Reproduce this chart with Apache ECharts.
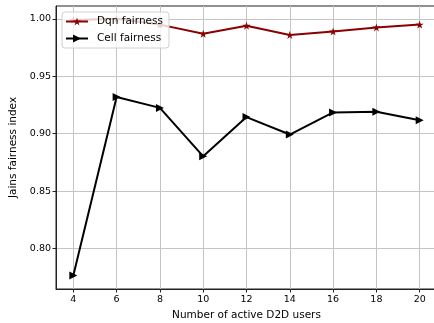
<!DOCTYPE html>
<html>
<head>
<meta charset="utf-8">
<script src="https://cdn.jsdelivr.net/npm/echarts@6/dist/echarts.min.js"></script>
<style>html,body{margin:0;padding:0;background:#fff;overflow:hidden;}#c{width:434px;height:323px;}</style>
</head>
<body>
<div id="c"></div>
<script>
var users = [4, 6, 8, 10, 12, 14, 16, 18, 20];
var dqnFairness = [0.999, 1.000, 0.995, 0.987, 0.994, 0.986, 0.989, 0.9925, 0.995];
var cellFairness = [0.7766, 0.932, 0.9225, 0.8803, 0.9145, 0.8993, 0.9185, 0.9192, 0.9118];
var xTicks = [4, 6, 8, 10, 12, 14, 16, 18, 20];
var yTicks = [0.80, 0.85, 0.90, 0.95, 1.00];

var starPath = 'path://M50,0 L61.8,35.4 L100,35.4 L69.1,57.3 L80.9,92.7 L50,70.8 L19.1,92.7 L30.9,57.3 L0,35.4 L38.2,35.4 Z';
var font = 'DejaVu Sans';

function pairs(xs, ys) { return xs.map(function (x, i) { return [x, ys[i]]; }); }

var chart = echarts.init(document.getElementById('c'), null, {renderer: 'canvas'});
chart.setOption({
  animation: false,
  backgroundColor: '#fff',
  grid: {left: 56, top: 6, width: 381, height: 283, containLabel: false, outerBoundsMode: 'none',
    show: true, borderColor: '#222', borderWidth: 1, backgroundColor: 'transparent'},
  xAxis: {
    type: 'value', min: 3.2, max: 20.8,
    name: 'Number of active D2D users', nameLocation: 'middle', nameGap: 18,
    nameTextStyle: {fontFamily: font, fontSize: 10.5, color: '#000'},
    axisLine: {show: true, lineStyle: {color: '#222', width: 1}},
    axisTick: {show: true, length: 3.5, inside: false, customValues: xTicks, lineStyle: {color: '#222'}},
    axisLabel: {customValues: xTicks, margin: 6, fontFamily: font, fontSize: 9.5, color: '#000'},
    splitLine: {show: true, lineStyle: {color: '#c4c4c4', width: 1}}
  },
  yAxis: {
    type: 'value', min: 0.7648, max: 1.0112,
    name: 'Jains fairness index', nameLocation: 'middle', nameGap: 36,
    nameTextStyle: {fontFamily: font, fontSize: 10.5, color: '#000'},
    axisLine: {show: true, lineStyle: {color: '#222', width: 1}},
    axisTick: {show: true, length: 3.5, customValues: yTicks, lineStyle: {color: '#222'}},
    axisLabel: {customValues: yTicks, margin: 5, fontFamily: font, fontSize: 9.5, color: '#000',
      formatter: function (v) { return v.toFixed(2); }},
    splitLine: {show: true, lineStyle: {color: '#c4c4c4', width: 1}}
  },
  legend: {
    left: 62, top: 12, orient: 'vertical',
    padding: [4, 6, 4, 3], itemWidth: 22, itemHeight: 10, itemGap: 6,
    backgroundColor: 'rgba(255,255,255,0.8)', borderColor: '#d0d0d0', borderWidth: 1, borderRadius: 3,
    textStyle: {fontFamily: font, fontSize: 10.5, color: '#000', lineHeight: 10, padding: [0, 0, 0, 4]},
    data: ['Dqn fairness', 'Cell fairness']
  },
  series: [
    {
      name: 'Dqn fairness', type: 'line', data: pairs(users, dqnFairness),
      symbol: starPath, symbolSize: 8, showAllSymbol: true,
      lineStyle: {color: '#8b0000', width: 2}, itemStyle: {color: '#8b0000'}, z: 3
    },
    {
      name: 'Cell fairness', type: 'line', data: pairs(users, cellFairness),
      symbol: 'triangle', symbolRotate: -90, symbolSize: 8, showAllSymbol: true,
      lineStyle: {color: '#000', width: 2}, itemStyle: {color: '#000'}, z: 3
    }
  ]
});
</script>
</body>
</html>
